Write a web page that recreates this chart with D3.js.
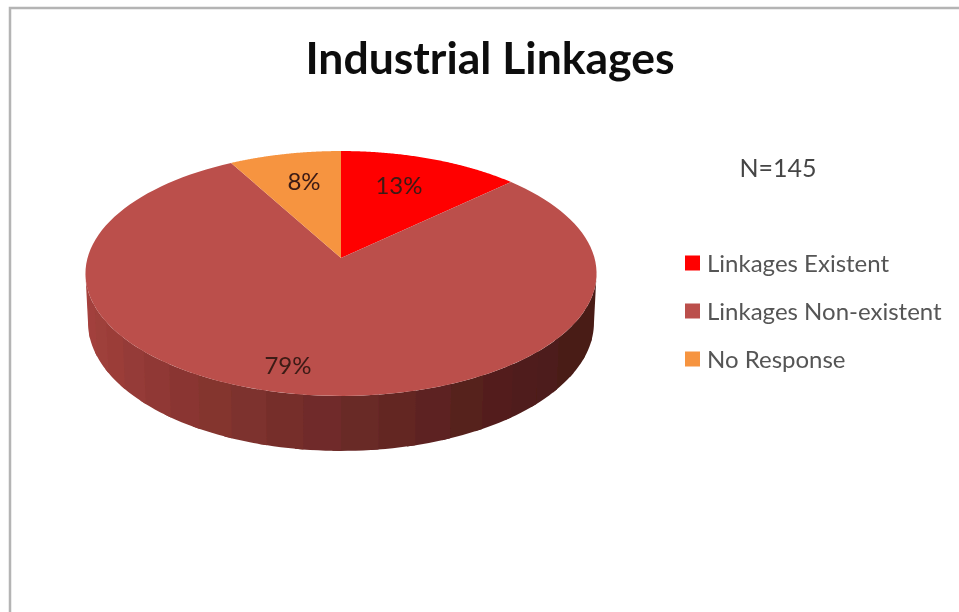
<!DOCTYPE html>
<html>
<head>
<meta charset="utf-8">
<style>
html,body{margin:0;padding:0;background:#fff;overflow:hidden}
svg{display:block}
text{font-family:Lato,"Open Sans",sans-serif}
</style>
<script src="https://cdn.jsdelivr.net/npm/d3@7/dist/d3.min.js"></script>
</head>
<body>
<svg id="chart" width="959" height="612"></svg>
<script>
const title = "Industrial Linkages";
const note = "N=145";
const categories = ["Linkages Existent", "Linkages Non-existent", "No Response"];
const values = [13, 79, 8];
const colors = ["#ff0000", "#bb4f4b", "#f69441"];
const labelPositions = [[399, 185], [288, 365], [304, 181]];
const wallStops = ["#a8423e", "#9a3d39", "#85342f", "#6c2a28", "#561f1d", "#4a1c19", "#4a1c19"];

const svg = d3.select("#chart");
const defs = svg.append("defs");
defs.append("filter").attr("id", "soft").attr("x", "-5%").attr("y", "-5%").attr("width", "110%").attr("height", "110%")
  .append("feGaussianBlur").attr("stdDeviation", 0.7);

// Frame of the original picture
svg.append("path").attr("d", "M10,612V8H959").attr("fill", "none").attr("stroke", "#b4b4b4").attr("stroke-width", 2.5);

// Perspective view of the pie disc
const cx = 341, cy = 258, k = 0.1265;
const sx = d3.scaleLinear().domain([-1, 1]).range([cx - 253.5, cx + 253.5]);
const sy = d3.scaleLinear().domain([-1, 1]).range([cy + 120.5, cy - 120.5]);
const depth = 48;
const project = (a, drop = 0) => {
  const u = Math.sin(a), v = Math.cos(a), w = 1 + k * v;
  const shrink = 1 - 0.01 * drop;
  return [sx(u * shrink / w), sy(v / w) + drop * depth / w];
};
const line = d3.line();
const steps = (a0, a1, n) => d3.range(n + 1).map(i => a0 + (a1 - a0) * i / n);

const arcs = d3.pie().sort(null).value(d => d)(values);
const g = svg.append("g").attr("filter", "url(#soft)");

// Side wall
const wallStart = Math.acos(-k), wallEnd = 2 * Math.PI - wallStart;
const bandCount = 22;
const bandStep = (wallEnd - wallStart) / bandCount;
const wallColor = d3.scaleLinear()
  .domain(d3.range(wallStops.length).map(i => wallEnd + (wallStart - wallEnd) * i / (wallStops.length - 1)))
  .range(wallStops);
const bands = d3.range(bandCount).map(i => {
  const a0 = wallStart + bandStep * i;
  return [a0, a0 + bandStep];
});
g.selectAll("path.wall").data(bands).join("path").attr("class", "wall")
  .attr("d", ([a0, a1]) => {
    const end = Math.min(a1 + 0.03, wallEnd);
    const top = steps(a0, end, 6).map(a => project(a));
    const bottom = steps(end, a0, 6).map(a => project(a, 1));
    return line(top.concat(bottom)) + "Z";
  })
  .attr("fill", ([a0, a1]) => wallColor((a0 + a1) / 2));

// Top face
g.selectAll("path.slice").data(arcs).join("path").attr("class", "slice")
  .attr("d", d => line([[cx, cy]].concat(steps(d.startAngle, d.endAngle, 120).map(a => project(a)))) + "Z")
  .attr("fill", (d, i) => colors[i]);

const t = svg.append("g").attr("filter", "url(#soft)");
t.append("text").attr("x", 490).attr("y", 74).attr("text-anchor", "middle")
  .attr("font-size", 44.5).attr("font-weight", 700).attr("fill", "#111").text(title);

t.selectAll("text.pct").data(values).join("text").attr("class", "pct")
  .attr("x", (d, i) => labelPositions[i][0]).attr("y", (d, i) => labelPositions[i][1])
  .attr("dy", "0.36em").attr("text-anchor", "middle").attr("font-size", 24).attr("fill", "#3a1a14")
  .text(d => d + "%");

t.append("text").attr("x", 778).attr("y", 168).attr("dy", "0.36em").attr("text-anchor", "middle")
  .attr("font-size", 25).attr("fill", "#444").text(note);

const legendY = d3.scalePoint().domain(categories).range([263, 359]);
const legend = t.selectAll("g.item").data(categories).join("g").attr("class", "item")
  .attr("transform", d => `translate(685,${legendY(d)})`);
legend.append("rect").attr("y", -7.5).attr("width", 15).attr("height", 15).attr("fill", (d, i) => colors[i]);
legend.append("text").attr("x", 22).attr("dy", "0.36em").attr("font-size", 24).attr("fill", "#555").text(d => d);
</script>
</body>
</html>
